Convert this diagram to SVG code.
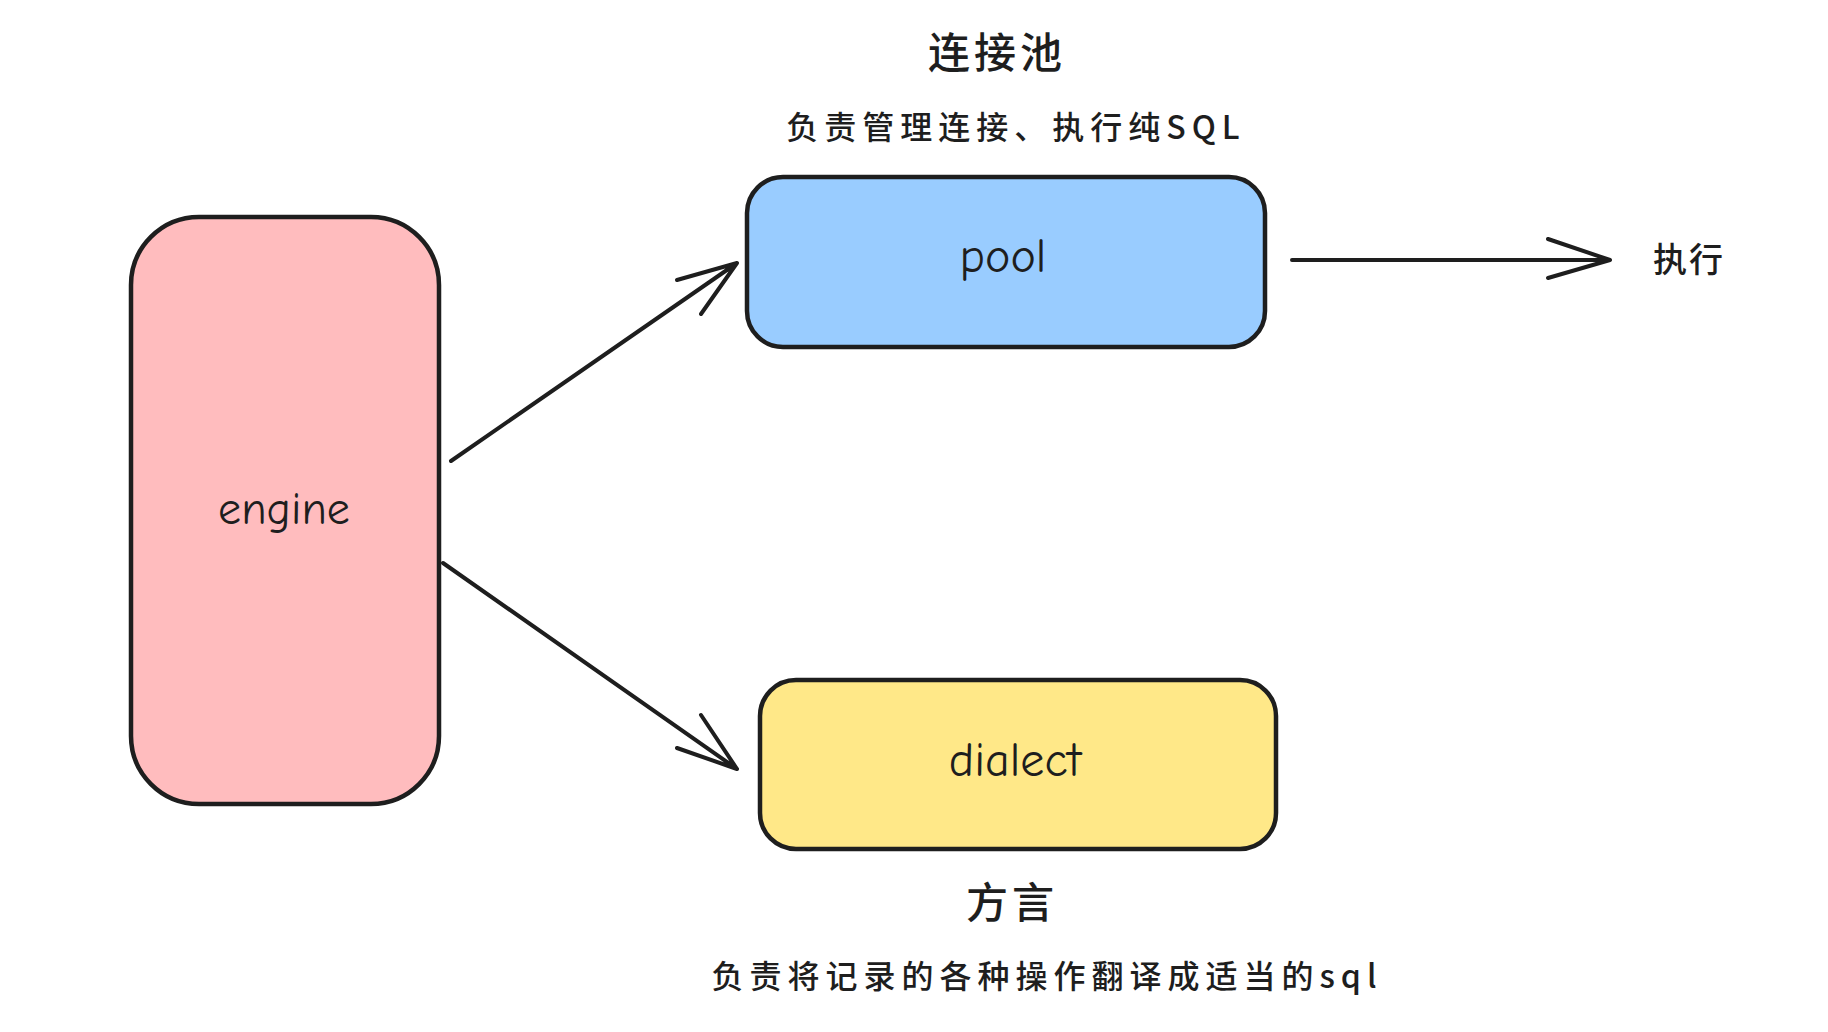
<svg xmlns="http://www.w3.org/2000/svg" width="1828" height="1032" viewBox="0 0 1828 1032">
<style>
.box{stroke:#1e1e1e;stroke-width:4.5}
.hand{font-family:"Comic Neue","Liberation Sans",sans-serif;fill:#1e1e1e;text-anchor:middle}
.cjk{font-family:"Noto Sans CJK SC",sans-serif;fill:#1e1e1e;text-anchor:middle;font-weight:500}
.con{stroke:#1e1e1e;stroke-width:4;fill:none;stroke-linecap:round;stroke-linejoin:round}
</style>
<rect width="1828" height="1032" fill="#fff"/>
<g id="engine"><rect class="box" x="131" y="217" width="308" height="587" rx="68" fill="#ffbcbe"/><text class="hand" x="284" y="524" font-size="46">engine</text></g>
<g id="pool"><rect class="box" x="747" y="177" width="518" height="170" rx="36" fill="#99ccff"/><text class="hand" x="1003" y="272" font-size="48">pool</text></g>
<g id="dialect"><rect class="box" x="760" y="680" width="516" height="169" rx="36" fill="#ffe888"/><text class="hand" x="1015" y="776" font-size="48">dialect</text></g>
<g id="labels">
<text class="cjk" x="997" y="68" font-size="42" letter-spacing="4">连接池</text>
<text class="cjk" x="1016" y="139" font-size="32" letter-spacing="6">负责管理连接、执行纯SQL</text>
<text class="cjk" x="1689" y="272" font-size="34" letter-spacing="2">执行</text>
<text class="cjk" x="1012" y="918" font-size="42" letter-spacing="4">方言</text>
<text class="cjk" x="1047" y="988" font-size="32" letter-spacing="6">负责将记录的各种操作翻译成适当的sql</text>
</g>
<g id="connectors">
<path class="con" d="M451 461 L737 263 M677 280 L737 263 L701 314"/>
<path class="con" d="M443 563 L737 769 M677 748 L737 769 L701 715"/>
<path class="con" d="M1292 260 L1610 260 M1548 239 L1610 260 L1548 278"/>
</g>
</svg>
